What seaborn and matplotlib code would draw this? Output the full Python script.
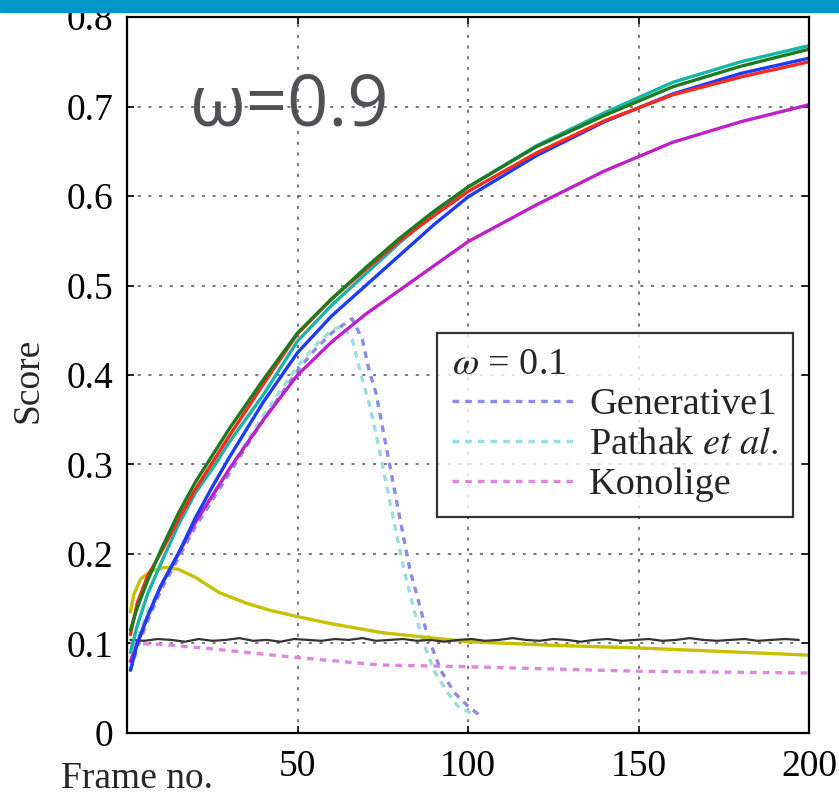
import numpy as np
import pandas as pd
import matplotlib
matplotlib.use("Agg")
import matplotlib.pyplot as plt
import seaborn as sns
from matplotlib.patches import Rectangle

frames = [1, 3, 6, 10, 15, 20, 25, 30, 40, 50, 60, 70, 80, 90, 100, 120, 140, 160, 180, 200]
green = [0.115, 0.14, 0.17, 0.205, 0.245, 0.28, 0.31, 0.34, 0.395, 0.447, 0.485, 0.52, 0.553, 0.583,
         0.61, 0.655, 0.69, 0.722, 0.745, 0.764]
cyan = [0.09, 0.12, 0.155, 0.19, 0.232, 0.268, 0.295, 0.325, 0.378, 0.438, 0.478, 0.513, 0.548, 0.58,
        0.61, 0.656, 0.693, 0.727, 0.75, 0.768]
red = [0.11, 0.145, 0.175, 0.202, 0.238, 0.272, 0.302, 0.332, 0.39, 0.446, 0.485, 0.518, 0.55, 0.578,
       0.605, 0.648, 0.684, 0.713, 0.733, 0.75]
blue = [0.07, 0.10, 0.13, 0.165, 0.20, 0.24, 0.275, 0.308, 0.37, 0.425, 0.466, 0.50, 0.534, 0.568,
        0.599, 0.645, 0.683, 0.714, 0.737, 0.754]
magenta = [0.08, 0.10, 0.13, 0.165, 0.20, 0.235, 0.265, 0.295, 0.35, 0.40, 0.437, 0.468, 0.495, 0.522,
           0.549, 0.59, 0.628, 0.66, 0.683, 0.702]

yellow_x = [1, 2, 4, 7, 11, 15, 20, 27, 35, 42, 50, 60, 75, 90, 100, 125, 150, 175, 200]
yellow_y = [0.135, 0.155, 0.172, 0.181, 0.185, 0.183, 0.174, 0.157, 0.145, 0.137, 0.13, 0.122, 0.112,
            0.106, 0.102, 0.098, 0.095, 0.091, 0.087]

black_x = list(range(1, 201, 4))
black_y = [0.104, 0.103, 0.105, 0.104, 0.102, 0.105, 0.103, 0.104, 0.106, 0.103, 0.104, 0.102, 0.105,
           0.104, 0.103, 0.105, 0.104, 0.106, 0.103, 0.104, 0.105, 0.103, 0.104, 0.102, 0.104, 0.105,
           0.103, 0.104, 0.106, 0.104, 0.103, 0.105, 0.104, 0.102, 0.104, 0.105, 0.103, 0.104, 0.105,
           0.103, 0.104, 0.106, 0.104, 0.103, 0.104, 0.105, 0.103, 0.104, 0.105, 0.104]

# omega = 0.1 results (dashed)
gen1_x = [1, 3, 6, 10, 15, 20, 25, 30, 40, 50, 55, 60, 66, 69, 71, 73, 75, 77, 80, 83, 86, 88, 92, 96, 100, 104]
gen1_y = [0.07, 0.095, 0.125, 0.16, 0.195, 0.23, 0.26, 0.29, 0.35, 0.405, 0.428, 0.447, 0.463, 0.44,
          0.405, 0.38, 0.34, 0.30, 0.24, 0.182, 0.14, 0.11, 0.07, 0.045, 0.03, 0.018]
pathak_x = [1, 3, 6, 10, 15, 20, 25, 30, 40, 50, 55, 60, 63, 66, 69, 71, 73, 77, 81, 84, 87, 90, 94, 97, 102]
pathak_y = [0.08, 0.105, 0.135, 0.165, 0.20, 0.235, 0.265, 0.295, 0.355, 0.41, 0.432, 0.45, 0.455, 0.44,
            0.395, 0.368, 0.335, 0.26, 0.186, 0.14, 0.10, 0.07, 0.045, 0.03, 0.02]
konolige_x = [1, 10, 25, 48, 74, 100, 150, 200]
konolige_y = [0.10, 0.099, 0.094, 0.085, 0.076, 0.074, 0.069, 0.067]

solid = [
    (frames, magenta, "#c020c8"),
    (frames, blue, "#1a3cff"),
    (frames, cyan, "#18b4a8"),
    (frames, red, "#ff2a1a"),
    (frames, green, "#1f7a1f"),
]
dashed = [
    (gen1_x, gen1_y, "#8c8ce6", "Generative1"),
    (pathak_x, pathak_y, "#9adede", r"Pathak $\it{et\ al.}$"),
    (konolige_x, konolige_y, "#dd88dd", "Konolige"),
]

sns.set_theme(style="white")
plt.rcParams["font.family"] = ["Liberation Serif", "DejaVu Serif"]
plt.rcParams["mathtext.fontset"] = "stix"

fig = plt.figure(figsize=(8.39, 7.95), dpi=100)
ax = fig.add_axes([0.1514, 0.078, 0.8129, 0.9006])

for xs, ys, col, lab in dashed:
    sns.lineplot(x=xs, y=ys, ax=ax, color=col, lw=2.4, label=lab, dashes=False)
    ax.lines[-1].set_dashes((2.0, 1.8))
    ax.lines[-1].set_zorder(2)

sns.lineplot(x=yellow_x, y=yellow_y, ax=ax, color="#c8c000", lw=2.4, legend=False)
sns.lineplot(x=black_x, y=black_y, ax=ax, color="#333333", lw=1.6, legend=False)
for xs, ys, col in solid:
    sns.lineplot(x=xs, y=ys, ax=ax, color=col, lw=2.4, legend=False)

ax.set_xlim(0, 200)
ax.set_ylim(0, 0.8)
ax.set_xticks([0, 50, 100, 150, 200])
ax.set_xticklabels(["", "50", "100", "150", "200"])
ax.set_yticks(np.arange(0, 0.81, 0.1))
ax.set_yticklabels(["0", "0.1", "0.2", "0.3", "0.4", "0.5", "0.6", "0.7", "0.8"])
ax.tick_params(direction="in", length=5, width=1.2, labelsize=27,
               top=True, right=True, bottom=True, left=True, colors="black")
ax.tick_params(axis="x", pad=12)
ax.tick_params(axis="y", pad=10)
ax.grid(True, linestyle=(0, (2, 5)), color="#555555", lw=1.1)
for sp in ax.spines.values():
    sp.set_color("black")
    sp.set_linewidth(1.6)

ax.set_xlabel("Frame no.", fontsize=27)
ax.xaxis.set_label_coords(0.015, -0.040)
ax.set_ylabel("Score", fontsize=27)
ax.yaxis.set_label_coords(-0.12, 0.493)

leg = ax.legend(loc="upper left", bbox_to_anchor=(0.4545, 0.5587), borderaxespad=0,
                title=r"$\omega$ = 0.1", alignment="left", fontsize=27.5, title_fontsize=27.5,
                handlelength=3.2, handletextpad=0.4, labelspacing=0.14, borderpad=0.38,
                frameon=True, fancybox=False, edgecolor="black")
leg.get_frame().set_linewidth(1.6)

fig.text(190 / 839, 1 - 125 / 795, "ω=0.9", fontsize=52, family="Open Sans",
         color="#505055", ha="left", va="baseline")

fig.patches.append(Rectangle((0, 1 - 12 / 795), 1, 12 / 795, transform=fig.transFigure,
                             color="#0096c8", zorder=10))

fig.savefig("out.png", dpi=100)
